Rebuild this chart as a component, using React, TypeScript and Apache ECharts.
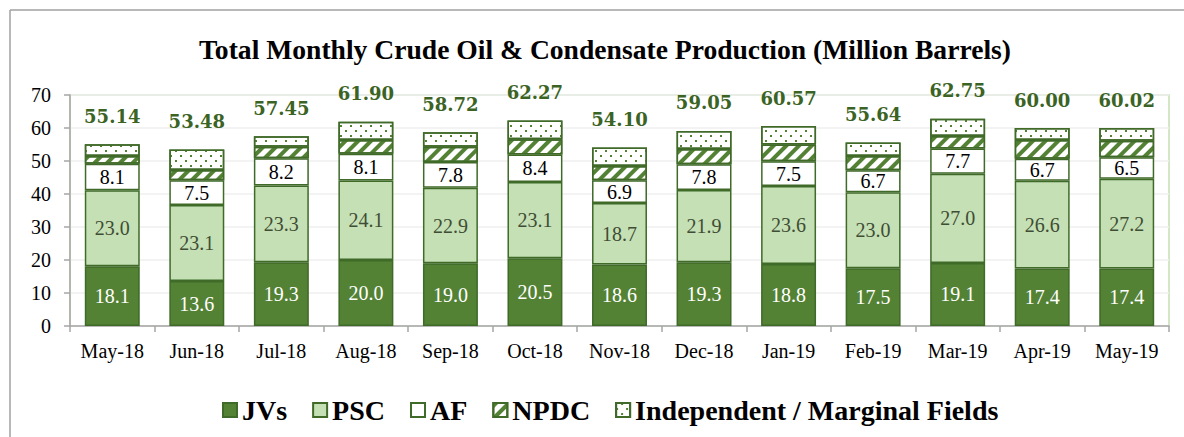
import React, { useEffect, useRef } from "react";
import * as echarts from "echarts";

const categories = ["May-18", "Jun-18", "Jul-18", "Aug-18", "Sep-18", "Oct-18", "Nov-18", "Dec-18", "Jan-19", "Feb-19", "Mar-19", "Apr-19", "May-19"];
const jvs = [18.1, 13.6, 19.3, 20.0, 19.0, 20.5, 18.6, 19.3, 18.8, 17.5, 19.1, 17.4, 17.4];
const psc = [23.0, 23.1, 23.3, 24.1, 22.9, 23.1, 18.7, 21.9, 23.6, 23.0, 27.0, 26.6, 27.2];
const af = [8.1, 7.5, 8.2, 8.1, 7.8, 8.4, 6.9, 7.8, 7.5, 6.7, 7.7, 6.7, 6.5];
const npdc = [2.3, 3.1, 3.5, 4.2, 4.6, 4.6, 4.3, 4.6, 5.1, 4.3, 3.8, 5.7, 5.0];
const marginal = [3.6, 6.2, 3.2, 5.5, 4.4, 5.7, 5.6, 5.5, 5.6, 4.1, 5.2, 3.6, 3.9];
const totals = [55.14, 53.48, 57.45, 61.9, 58.72, 62.27, 54.1, 59.05, 60.57, 55.64, 62.75, 60.0, 60.02];

const SERIF = "'Liberation Serif', 'Times New Roman', serif";
const BORDER = "#3f6a28";
const DARK = "#548235";

export default function App() {
  const ref = useRef<HTMLDivElement>(null);
  useEffect(() => {
    if (!ref.current) return;
    const chart = echarts.init(ref.current, null, { renderer: "svg" });
    const inLabel = (color: string) => ({
      show: true,
      position: "inside",
      color,
      fontFamily: SERIF,
      fontSize: 20,
      formatter: (p: any) => Number(p.value).toFixed(1),
    });
    const base = {
      type: "bar",
      stack: "total",
      barCategoryGap: "35%",
    };
    chart.setOption({
      animation: false,
      backgroundColor: "#ffffff",
      title: {
        text: "Total Monthly Crude Oil & Condensate Production (Million Barrels)",
        left: 194,
        top: 30,
        textStyle: { fontFamily: SERIF, fontWeight: "bold", fontSize: 27.6, color: "#000" },
      },
      legend: {
        left: 217,
        top: 391,
        itemWidth: 14,
        itemHeight: 14,
        itemGap: 25,
        icon: "rect",
        textStyle: { fontFamily: SERIF, fontWeight: "bold", fontSize: 28, color: "#000" },
      },
      grid: {
        left: 70,
        right: 15,
        top: 95,
        bottom: 111,
        show: true,
        borderColor: "#c5e0b4",
        borderWidth: 1.5,
      },
      xAxis: {
        type: "category",
        data: categories,
        axisLine: { lineStyle: { color: "#a6a6a6", width: 1.5 } },
        axisTick: { show: true, length: 6, lineStyle: { color: "#a6a6a6", width: 1.5 } },
        axisLabel: { fontFamily: SERIF, fontSize: 20, color: "#000", margin: 15 },
      },
      yAxis: {
        type: "value",
        min: 0,
        max: 70,
        interval: 10,
        axisLine: { show: true, lineStyle: { color: "#a6a6a6", width: 1.5 } },
        axisTick: { show: true, length: 6, lineStyle: { color: "#a6a6a6", width: 1.5 } },
        axisLabel: { fontFamily: SERIF, fontSize: 20, color: "#000", margin: 19 },
        splitLine: { lineStyle: { color: "#efefef", width: 1.5 } },
      },
      graphic: [
        { type: "line", shape: { x1: 10, y1: 10, x2: 1184, y2: 10 }, style: { stroke: "#a0a0a0", lineWidth: 1.5 } },
        { type: "line", shape: { x1: 10, y1: 10, x2: 10, y2: 437 }, style: { stroke: "#a0a0a0", lineWidth: 1.5 } },
      ],
      series: [
        {
          ...base,
          name: "JVs",
          data: jvs,
          itemStyle: { color: DARK, borderColor: BORDER, borderWidth: 1.5 },
          label: inLabel("#ffffff"),
        },
        {
          ...base,
          name: "PSC",
          data: psc,
          itemStyle: { color: "#c5e0b4", borderColor: BORDER, borderWidth: 1.5 },
          label: inLabel("#3f4d35"),
        },
        {
          ...base,
          name: "AF",
          data: af,
          itemStyle: { color: "#ffffff", borderColor: BORDER, borderWidth: 1.5 },
          label: inLabel("#000000"),
        },
        {
          ...base,
          name: "NPDC",
          data: npdc,
          itemStyle: {
            color: "#ffffff",
            borderColor: BORDER,
            borderWidth: 1.5,
            decal: {
              symbol: "rect",
              symbolSize: 1,
              color: DARK,
              backgroundColor: "#ffffff",
              dashArrayX: [1, 0],
              dashArrayY: [4, 5],
              rotation: -Math.PI / 4,
            },
          },
        },
        {
          ...base,
          name: "Independent / Marginal Fields",
          data: marginal,
          itemStyle: {
            color: "#ffffff",
            borderColor: BORDER,
            borderWidth: 1.5,
            decal: {
              symbol: "rect",
              symbolSize: 1,
              color: DARK,
              backgroundColor: "#ffffff",
              dashArrayX: [[2, 8], [0, 5, 2, 3]],
              dashArrayY: [2, 3],
              rotation: 0,
            },
          },
          label: {
            show: true,
            position: "top",
            distance: 19,
            fontFamily: "'DejaVu Serif', serif",
            fontWeight: "bold",
            fontSize: 18,
            color: "#3b6324",
            formatter: (p: any) => totals[p.dataIndex].toFixed(2),
          },
        },
      ],
    });
    return () => chart.dispose();
  }, []);
  return <div ref={ref} style={{ position: "absolute", left: 0, top: 0, width: 1184, height: 437 }} />;
}
